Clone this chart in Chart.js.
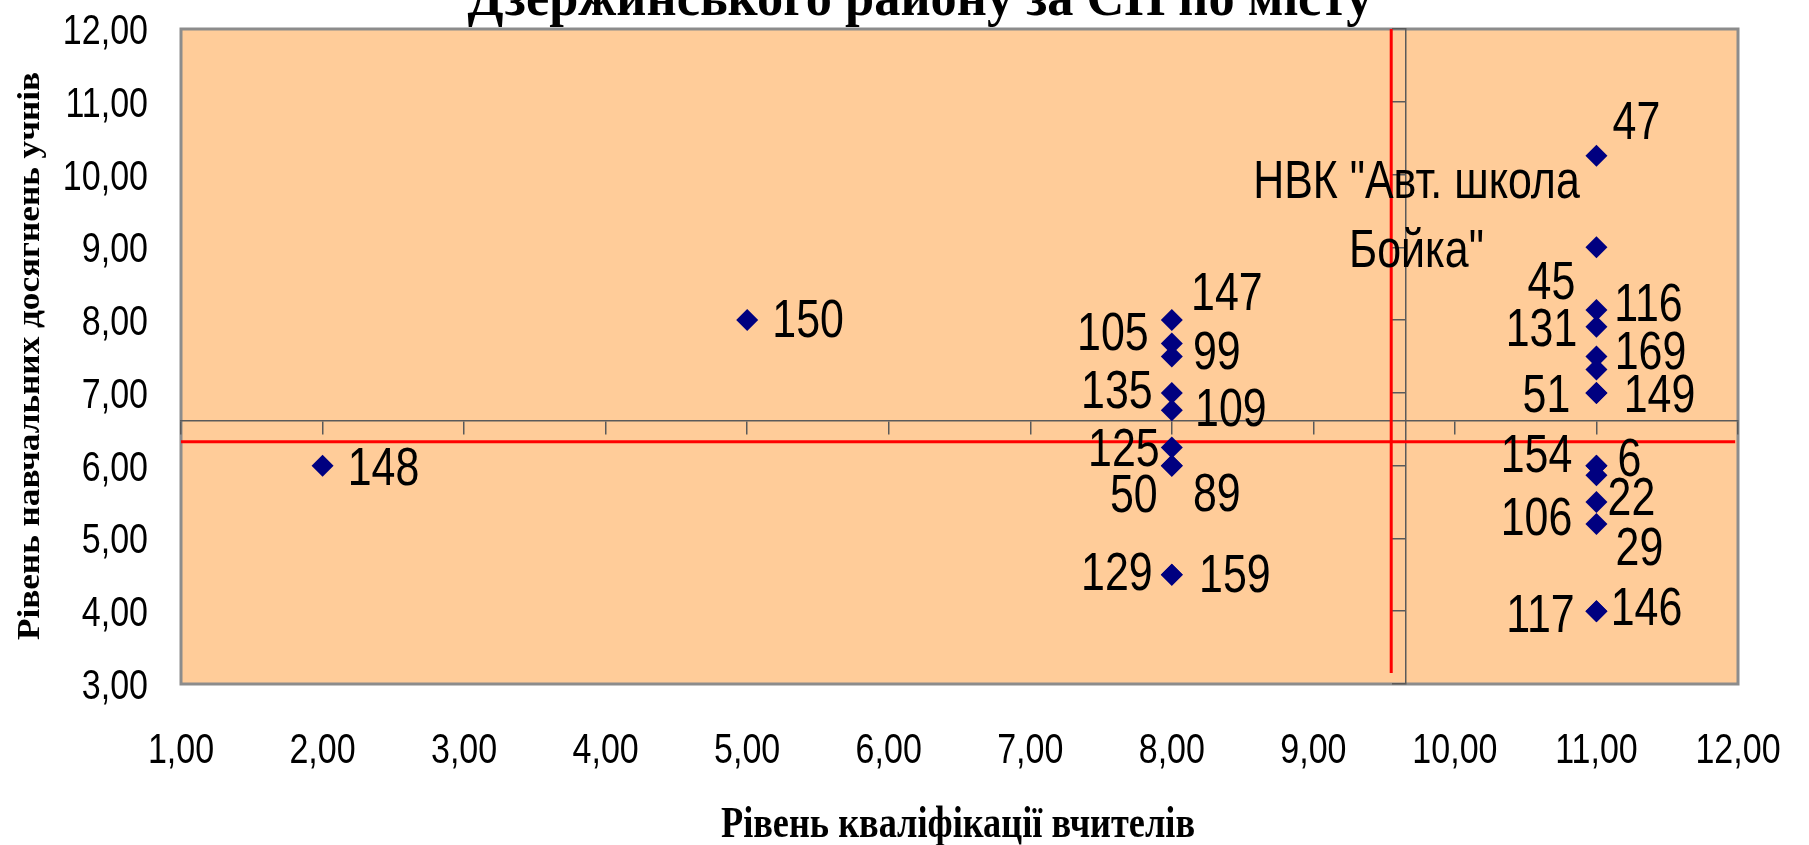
<!DOCTYPE html>
<html>
<head>
<meta charset="utf-8">
<script src="https://cdn.jsdelivr.net/npm/chart.js@4.4.1/dist/chart.umd.min.js"></script>
<style>
  html, body { margin: 0; padding: 0; background: #fff; }
  #wrap { width: 1809px; height: 845px; }
</style>
</head>
<body>
<div id="wrap"><canvas id="chart" width="1809" height="845"></canvas></div>
<script>
// School codes with teacher level (x) and student level (y)
const schools = ['148', '150', '147', '105', '99', '135', '109', '125', '50', '89', '129', '159',
  '47', 'НВК "Авт. школа\nБойка"', '45', '116', '131', '169', '51', '149', '154', '6', '22', '106', '29', '117', '146'];
const teacherLevel = [2, 5, 8, 8, 8, 8, 8, 8, 8, 8, 8, 8,
  11, 11, 11, 11, 11, 11, 11, 11, 11, 11, 11, 11, 11, 11, 11];
const studentLevel = [6.0, 8.0, 8.0, 7.68, 7.5, 7.0, 6.76, 6.25, 6.0, 6.0, 4.5, 4.5,
  10.26, 9.0, 8.14, 7.91, 7.5, 7.32, 7.0, 7.0, 6.0, 6.0, 5.87, 5.5, 5.2, 4.0, 4.0];

// red city-average lines
const avgTeacher = 9.55;
const avgStudent = 6.33;
const avgTeacherSpan = [3.15, 12];
const avgStudentSpan = [1, 11.98];

// axis ranges and where the axes cross
const xRange = [1, 12];
const yRange = [3, 12];
const crossX = 9.65;
const crossY = 6.62;

// label placement next to each point (px), same order as schools
const labelShift = [[61, 0], [61, -2], [55, -29], [-59, -12], [45, -7], [-55, -4], [59, -3], [-48, 0],
  [-38, 27], [45, 26], [-55, -4], [63, -2],
  [40, -36], [-180, -34], [-45, -30], [52, -25], [-55, -30], [54, -20], [-50, 0], [63, 0],
  [-60, -13], [33, -9], [35, 21], [-60, 14], [43, 22], [-56, 2], [50, -5]];

const sans = '"Liberation Sans", Arial, sans-serif';
const squeeze = 0.81; // the original picture is stretched vertically, text looks narrow
const axisColor = '#5a5a5a';
const fmt = v => v.toFixed(2).replace('.', ',');

function drawText(ctx, text, x, y, font, sx, align, angle) {
    ctx.save();
    ctx.font = font;
    ctx.translate(x, y);
    ctx.rotate(angle || 0);
    ctx.scale(sx, 1);
    ctx.textAlign = align || 'center';
    ctx.textBaseline = 'alphabetic';
    ctx.fillStyle = '#000';
    ctx.fillText(text, 0, 0);
    ctx.restore();
}

function fitText(ctx, text, x, y, font, width, angle) {
    ctx.save();
    ctx.font = font;
    const w = ctx.measureText(text).width;
    ctx.restore();
    drawText(ctx, text, x, y, font, width / w, 'center', angle);
}

// peach plot area with grey frame
const plotFrame = {
    id: 'plotFrame',
    beforeDraw(chart) {
        const { ctx, chartArea: a } = chart;
        ctx.save();
        ctx.fillStyle = '#FFCC99';
        ctx.fillRect(a.left, a.top, a.width, a.height);
        ctx.strokeStyle = '#8c8c8c';
        ctx.lineWidth = 3;
        ctx.strokeRect(a.left, a.top, a.width, a.height);
        ctx.restore();
    }
};

// tick labels at the low side of the plot, narrow like the original
const tickLabels = {
    id: 'tickLabels',
    afterDraw(chart) {
        const ctx = chart.ctx;
        const { x, y } = chart.scales;
        const font = '42px ' + sans;
        x.ticks.forEach(t => {
            drawText(ctx, fmt(t.value), x.getPixelForValue(t.value), chart.chartArea.bottom + 79, font, squeeze, 'center');
        });
        y.ticks.forEach(t => {
            drawText(ctx, fmt(t.value), chart.chartArea.left - 33, y.getPixelForValue(t.value) + 15, font, squeeze, 'right');
        });
    }
};

const pointLabels = {
    id: 'pointLabels',
    afterDatasetsDraw(chart) {
        const ctx = chart.ctx;
        const meta = chart.getDatasetMeta(0);
        const font = '53px ' + sans;
        const lh = 69;
        meta.data.forEach((pt, i) => {
            const lines = schools[i].split('\n');
            const [dx, dy] = labelShift[i];
            const top = pt.y + dy - (lines.length - 1) * lh / 2;
            lines.forEach((line, k) => drawText(ctx, line, pt.x + dx, top + k * lh + 19, font, squeeze, 'center'));
        });
    }
};

const titles = {
    id: 'titles',
    afterDraw(chart) {
        const ctx = chart.ctx;
        fitText(ctx, 'Дзержинського району за СП по місту', 920, 15, 'bold 54px "Liberation Serif"', 905);
        fitText(ctx, 'Рівень кваліфікації вчителів', 958, 837, 'bold 45px "Liberation Serif"', 474);
        fitText(ctx, 'Рівень навчальних досягнень учнів', 39, 356, 'bold 32px "Liberation Serif"', 568, -Math.PI / 2);
    }
};

new Chart(document.getElementById('chart'), {
    type: 'scatter',
    data: {
        datasets: [{
            label: 'Школи',
            data: teacherLevel.map((x, i) => ({ x: x, y: studentLevel[i] })),
            pointStyle: 'rectRot',
            pointRadius: 11,
            backgroundColor: '#000080',
            borderColor: '#000080',
            borderWidth: 0,
            order: 0
        }, {
            label: 'avgStudent',
            data: [{ x: avgStudentSpan[0], y: avgStudent }, { x: avgStudentSpan[1], y: avgStudent }],
            showLine: true,
            borderColor: '#ff0000',
            borderWidth: 3,
            pointRadius: 0,
            order: 1
        }, {
            label: 'avgTeacher',
            data: [{ x: avgTeacher, y: avgTeacherSpan[0] }, { x: avgTeacher, y: avgTeacherSpan[1] }],
            showLine: true,
            borderColor: '#ff0000',
            borderWidth: 3,
            pointRadius: 0,
            order: 1
        }]
    },
    options: {
        responsive: false,
        animation: false,
        events: [],
        layout: { padding: { top: 29, right: 71, bottom: 0, left: 0 } },
        plugins: {
            legend: { display: false },
            tooltip: { enabled: false }
        },
        scales: {
            x: {
                type: 'linear', position: 'bottom', min: xRange[0], max: xRange[1],
                ticks: { stepSize: 1, display: false },
                grid: { display: false },
                border: { display: false },
                afterFit: s => { s.height = 161; }
            },
            y: {
                type: 'linear', position: 'left', min: yRange[0], max: yRange[1],
                ticks: { stepSize: 1, display: false },
                grid: { display: false },
                border: { display: false },
                afterFit: s => { s.width = 181; }
            },
            xAxis: {
                type: 'linear', position: { y: crossY }, min: xRange[0], max: xRange[1],
                ticks: { display: false, stepSize: 1 },
                grid: { drawOnChartArea: false, tickLength: 13, color: axisColor, lineWidth: 1.5 },
                border: { color: axisColor, width: 1.5 }
            },
            yAxis: {
                type: 'linear', position: { x: crossX }, min: yRange[0], max: yRange[1],
                ticks: { display: false, stepSize: 1 },
                grid: { drawOnChartArea: false, tickLength: 13, color: axisColor, lineWidth: 1.5 },
                border: { color: axisColor, width: 1.5 }
            }
        }
    },
    plugins: [plotFrame, tickLabels, pointLabels, titles]
});
</script>
</body>
</html>
